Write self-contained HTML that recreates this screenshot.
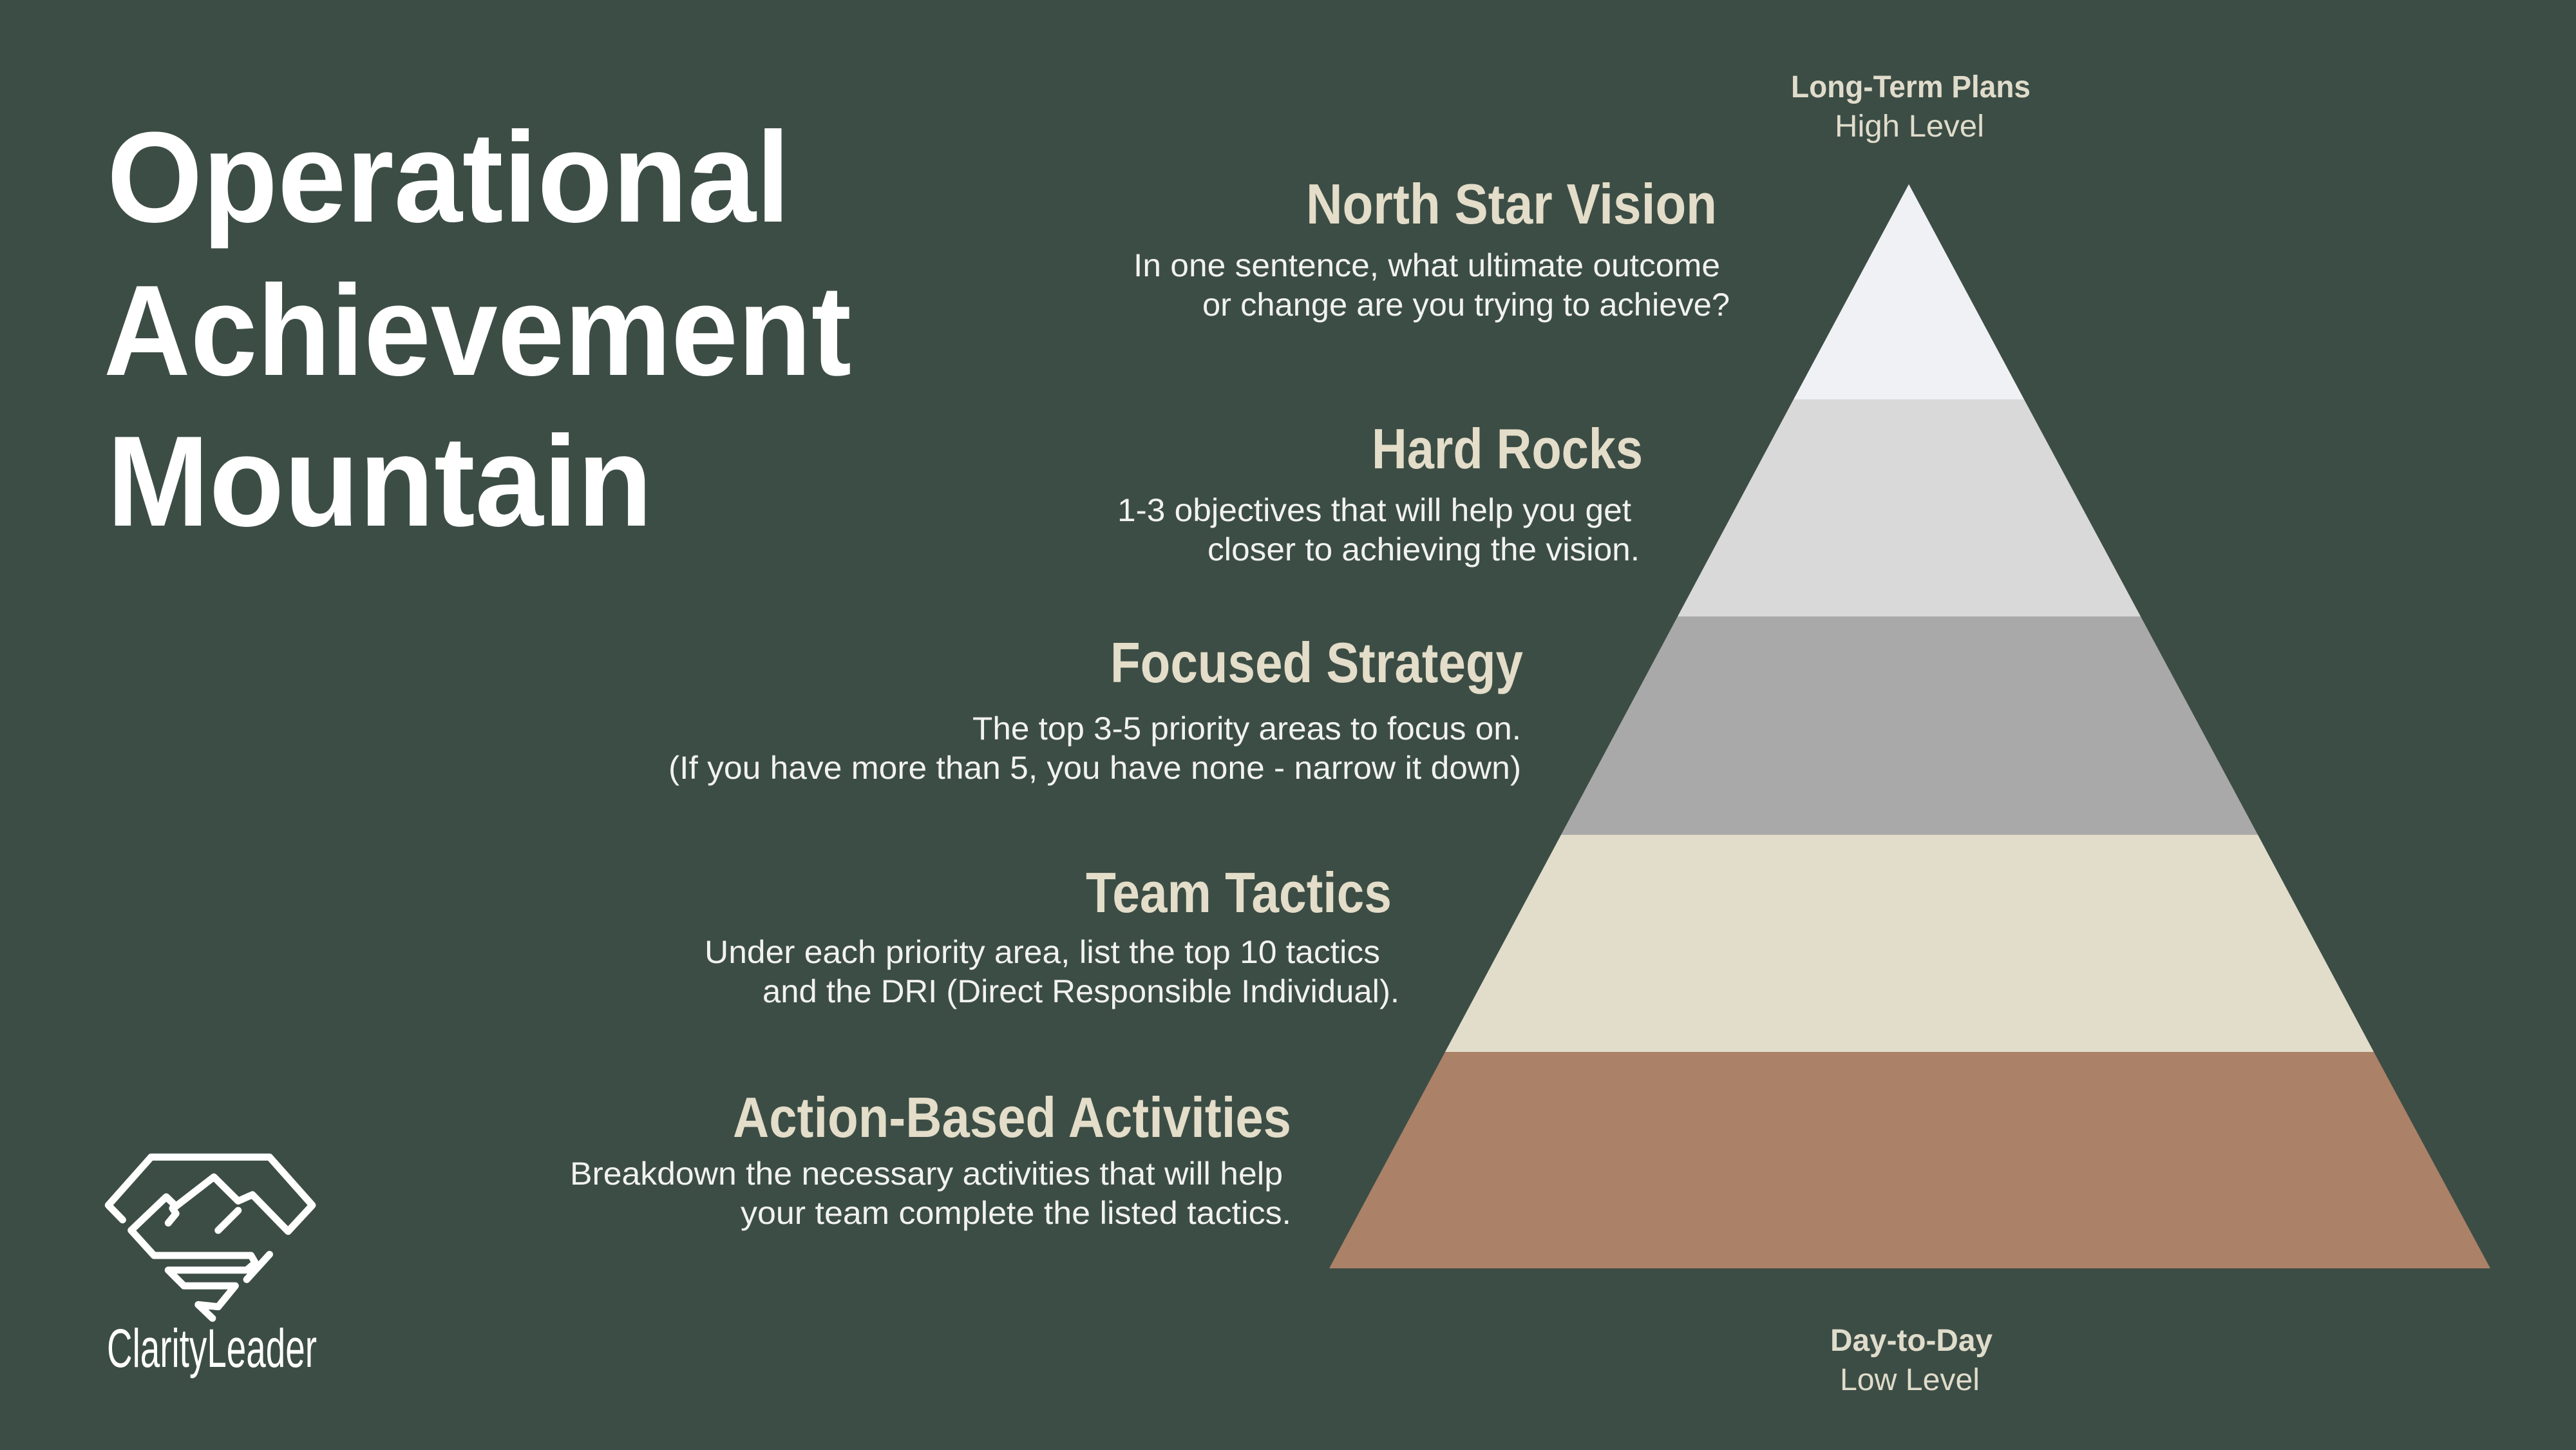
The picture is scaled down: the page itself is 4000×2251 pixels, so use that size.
<!DOCTYPE html>
<html><head><meta charset="utf-8"><style>
html,body{margin:0;padding:0;background:#3c4d45;}
svg{display:block}
</style></head><body>
<svg width="4000" height="2251" viewBox="0 0 4000 2251" xmlns="http://www.w3.org/2000/svg">
<rect width="4000" height="2251" fill="#3c4d45"/>
<g>
<polygon points="2964,286 2785,620 3143,620" fill="#f0f1f5"/>
<polygon points="2785,620 3143,620 3324,957 2605,957" fill="#d9d9d9"/>
<polygon points="2605,957 3324,957 3506,1296 2424,1296" fill="#a9a9a9"/>
<polygon points="2424,1296 3506,1296 3686,1633 2244,1633" fill="#e2ddcb"/>
<polygon points="2244,1633 3686,1633 3867,1969 2064,1969" fill="#ab8168"/>
</g>
<g font-family="Liberation Sans, DejaVu Sans, sans-serif">
<text x="166" y="344" font-size="200" font-weight="bold" fill="#ffffff" textLength="1061" lengthAdjust="spacingAndGlyphs">Operational</text>
<text x="161" y="582" font-size="200" font-weight="bold" fill="#ffffff" textLength="1161" lengthAdjust="spacingAndGlyphs">Achievement</text>
<text x="166" y="816" font-size="200" font-weight="bold" fill="#ffffff" textLength="847" lengthAdjust="spacingAndGlyphs">Mountain</text>

<g fill="#e0dccb">
<text x="2781" y="151" font-size="48" font-weight="bold" textLength="372" lengthAdjust="spacingAndGlyphs">Long-Term Plans</text>
<text x="2849" y="212" font-size="48" textLength="232" lengthAdjust="spacingAndGlyphs">High Level</text>
<text x="2842" y="2097" font-size="48" font-weight="bold" textLength="252" lengthAdjust="spacingAndGlyphs">Day-to-Day</text>
<text x="2857" y="2158" font-size="48" textLength="217" lengthAdjust="spacingAndGlyphs">Low Level</text>
</g>

<g fill="#e3ddc9" font-size="88" font-weight="bold">
<text x="2028" y="347" textLength="638" lengthAdjust="spacingAndGlyphs">North Star Vision</text>
<text x="2130" y="727" textLength="421" lengthAdjust="spacingAndGlyphs">Hard Rocks</text>
<text x="1724" y="1059" textLength="641" lengthAdjust="spacingAndGlyphs">Focused Strategy</text>
<text x="1686" y="1416" textLength="475" lengthAdjust="spacingAndGlyphs">Team Tactics</text>
<text x="1138" y="1765" textLength="867" lengthAdjust="spacingAndGlyphs">Action-Based Activities</text>
</g>

<g fill="#f2f2f2" font-size="50">
<text x="1760" y="429" textLength="911" lengthAdjust="spacingAndGlyphs">In one sentence, what ultimate outcome</text>
<text x="1867" y="490" textLength="819" lengthAdjust="spacingAndGlyphs">or change are you trying to achieve?</text>
<text x="1735" y="809" textLength="798" lengthAdjust="spacingAndGlyphs">1-3 objectives that will help you get</text>
<text x="1875" y="870" textLength="671" lengthAdjust="spacingAndGlyphs">closer to achieving the vision.</text>
<text x="1510" y="1148" textLength="852" lengthAdjust="spacingAndGlyphs">The top 3-5 priority areas to focus on.</text>
<text x="1038" y="1209" textLength="1324" lengthAdjust="spacingAndGlyphs">(If you have more than 5,  you have none - narrow it down)</text>
<text x="1094" y="1495" textLength="1049" lengthAdjust="spacingAndGlyphs">Under each priority area, list the top 10 tactics</text>
<text x="1184" y="1556" textLength="989" lengthAdjust="spacingAndGlyphs">and the DRI (Direct Responsible Individual).</text>
<text x="885" y="1839" textLength="1107" lengthAdjust="spacingAndGlyphs">Breakdown the necessary activities that will help</text>
<text x="1150" y="1900" textLength="855" lengthAdjust="spacingAndGlyphs">your team complete the listed tactics.</text>
</g>

<text x="166" y="2122" font-size="84" fill="#ffffff" textLength="326" lengthAdjust="spacingAndGlyphs">ClarityLeader</text>
</g>

<g transform="translate(2.1,1703.6) scale(0.443,0.325)" fill="none" stroke="#ffffff" stroke-width="11" stroke-linejoin="round" stroke-linecap="round">
<polyline vector-effect="non-scaling-stroke" points="425,585 375,515 525,285 940,285 1090,515 1005,640 880,465 830,495 745,380 612,520 578,475 455,635 535,755 875,755 890,790 860,825 585,825 640,900 820,900 760,1000 690,990 740,1055"/>
<polyline vector-effect="non-scaling-stroke" points="585,600 612,555 600,530"/>
<polyline vector-effect="non-scaling-stroke" points="760,635 830,540"/>
<polyline vector-effect="non-scaling-stroke" points="940,750 860,870"/>
</g>
</svg>
</body></html>
